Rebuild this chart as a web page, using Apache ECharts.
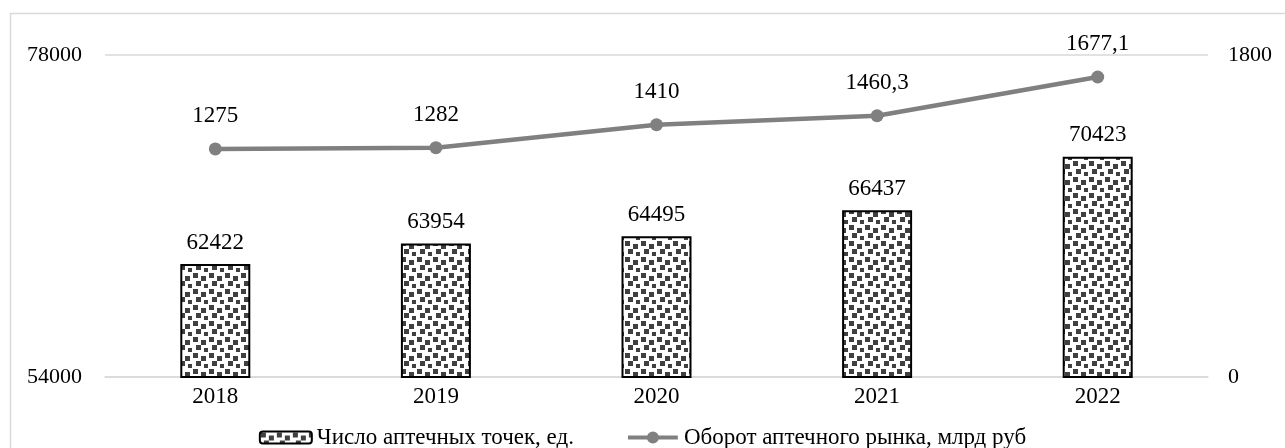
<!DOCTYPE html>
<html>
<head>
<meta charset="utf-8">
<script src="https://cdn.jsdelivr.net/npm/echarts@6/dist/echarts.min.js"></script>
<style>
html,body{margin:0;padding:0;background:#fff;}
#c{width:1285px;height:448px;}
</style>
</head>
<body>
<div id="c"></div>
<script>
const categories = ['2018', '2019', '2020', '2021', '2022'];
const pharmacyCount = [62422, 63954, 64495, 66437, 70423];
const marketTurnover = [1275, 1282, 1410, 1460.3, 1677.1];
const turnoverLabels = ['1275', '1282', '1410', '1460,3', '1677,1'];
const leftTicks = [54000, 78000];
const rightTicks = [0, 1800];
const seriesNames = ['Число аптечных точек, ед.', 'Оборот аптечного рынка, млрд руб'];

function makePattern() {
  const c = document.createElement('canvas');
  c.width = 16; c.height = 16;
  const g = c.getContext('2d');
  g.fillStyle = '#ffffff';
  g.fillRect(0, 0, 16, 16);
  g.fillStyle = '#404040';
  [[1,1],[9,4],[4,9],[12,12]].forEach(p => g.fillRect(p[0], p[1], 5, 5));
  return c;
}
const pat = makePattern();

const lineIcon = 'path://M0,4.25 L54,4.25 L54,8.75 L0,8.75 Z M20.5,6.5 A6.5,6.5 0 1,1 33.5,6.5 A6.5,6.5 0 1,1 20.5,6.5 Z';

const font = '"Liberation Serif", "Times New Roman", serif';
const chart = echarts.init(document.getElementById('c'), null, {renderer: 'canvas'});
chart.setOption({
  animation: false,
  backgroundColor: '#fff',
  textStyle: {fontFamily: font, color: '#000'},
  graphic: [{
    type: 'rect', left: 8, top: 11, silent: true, z: -1,
    shape: {width: 1400, height: 600},
    style: {fill: 'none', stroke: '#d9d9d9', lineWidth: 1.5}
  }],
  grid: {left: 105, right: 77, top: 55, bottom: 71},
  legend: {
    show: true, orient: 'horizontal',
    top: 421, left: 'center',
    itemWidth: 52, itemHeight: 12, itemGap: 54,
    textStyle: {fontFamily: font, fontSize: 23, color: '#000'},
    data: [
      {name: seriesNames[0]},
      {name: seriesNames[1], icon: lineIcon, itemStyle: {color: '#808080', borderWidth: 0}}
    ]
  },
  xAxis: {
    type: 'category', data: categories,
    axisLine: {lineStyle: {color: '#d9d9d9', width: 1.5}},
    axisTick: {show: false},
    axisLabel: {fontFamily: font, fontSize: 23, color: '#000', margin: 8}
  },
  yAxis: [{
    type: 'value', min: leftTicks[0], max: leftTicks[1], interval: leftTicks[1] - leftTicks[0],
    axisLine: {show: false}, axisTick: {show: false},
    splitLine: {lineStyle: {color: '#d9d9d9', width: 1.5}},
    axisLabel: {fontFamily: font, fontSize: 22, color: '#000', margin: 23, formatter: v => String(v)}
  }, {
    type: 'value', min: rightTicks[0], max: rightTicks[1], interval: rightTicks[1] - rightTicks[0],
    axisLine: {show: false}, axisTick: {show: false}, splitLine: {show: false},
    axisLabel: {fontFamily: font, fontSize: 22, color: '#000', margin: 20, formatter: v => String(v)}
  }],
  series: [{
    name: seriesNames[0], type: 'bar', yAxisIndex: 0, data: pharmacyCount,
    barWidth: 70,
    itemStyle: {color: {image: pat, repeat: 'repeat'}, borderColor: '#000', borderWidth: 2},
    label: {show: true, position: 'top', distance: 10, fontFamily: font, fontSize: 23, color: '#000'}
  }, {
    name: seriesNames[1], type: 'line', yAxisIndex: 1, data: marketTurnover,
    symbol: 'circle', symbolSize: 13,
    lineStyle: {color: '#808080', width: 4.5},
    itemStyle: {color: '#808080'},
    label: {show: true, position: 'top', distance: 15, fontFamily: font, fontSize: 23, color: '#000',
      formatter: p => turnoverLabels[p.dataIndex]}
  }]
});
</script>
</body>
</html>
